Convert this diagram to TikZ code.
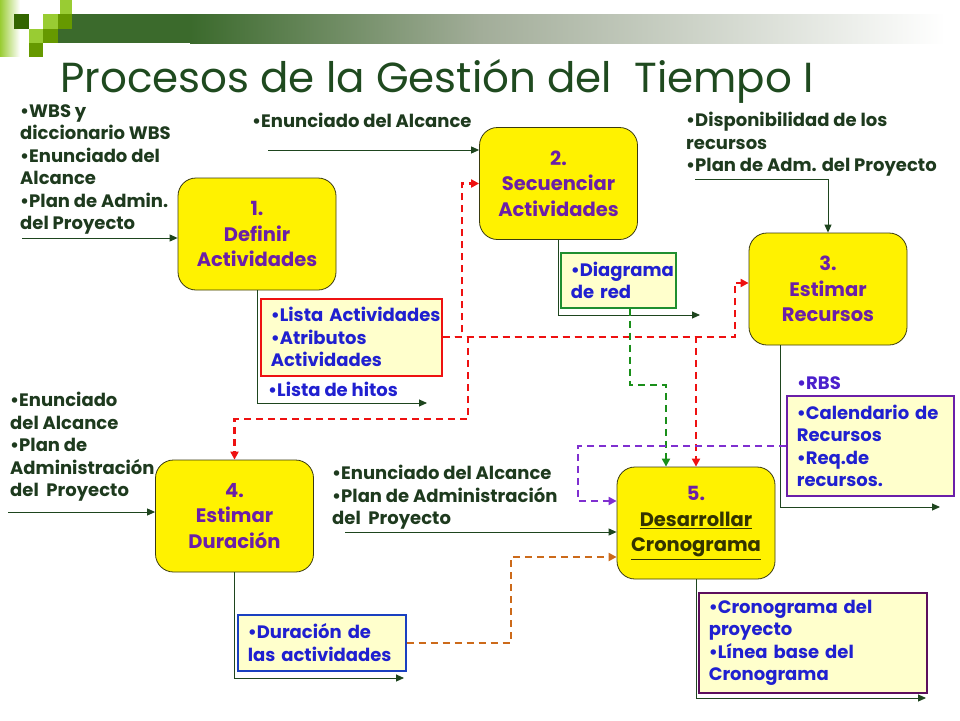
\documentclass[tikz,border=0pt]{standalone}
\usepackage{fontspec}
\setmainfont{Poppins}
\usetikzlibrary{arrows.meta,calc}
\definecolor{ttl}{HTML}{1F4A1F}
\definecolor{ingreen}{HTML}{1E3A1E}
\definecolor{flowgreen}{HTML}{1E451E}
\definecolor{procpurple}{HTML}{6B1FA8}
\definecolor{boxline}{HTML}{3A3A10}
\definecolor{olivetext}{HTML}{333300}
\definecolor{outblue}{HTML}{2020D0}
\definecolor{rbsblue}{HTML}{4B1FCC}
\definecolor{paleyellow}{HTML}{FFFFCC}
\definecolor{redline}{HTML}{EE1111}
\definecolor{greenbox}{HTML}{1F8F2F}
\definecolor{greendash}{HTML}{1A8F1A}
\definecolor{purplebox}{HTML}{6A1FA8}
\definecolor{purpledash}{HTML}{7F2FD0}
\definecolor{orangedash}{HTML}{CC6A1A}
\definecolor{bluebox}{HTML}{1A40C0}
\definecolor{darkpurple}{HTML}{5C0F5C}
\definecolor{sqlight}{HTML}{99CC33}
\definecolor{sqmid}{HTML}{669900}
\definecolor{sqdark}{HTML}{336600}
\definecolor{bardark}{HTML}{3B6A2C}
\definecolor{barmid}{HTML}{A2AD99}
\begin{document}
\begin{tikzpicture}[x=1pt,y=-1pt,
  proc/.style={draw=boxline, line width=0.8pt, fill=yellow, rounded corners=18pt,
    minimum width=158pt, minimum height=112pt, align=center, text=procpurple,
    font=\bfseries\fontsize{19.5}{25.5}\selectfont, inner sep=0pt},
  intext/.style={anchor=north west, inner sep=0pt, align=left, text=ingreen,
    font=\bfseries\fontsize{18}{22.5}\selectfont},
  outbox/.style={draw, line width=1.6pt, fill=paleyellow, anchor=north west, align=left,
    inner xsep=10pt, inner ysep=0pt, text=outblue,
    font=\bfseries\fontsize{18}{22.5}\selectfont},
  flow/.style={draw=flowgreen, line width=0.9pt, -{Triangle[length=8pt,width=7pt]}},
  dashflow/.style={line width=2.2pt, dash pattern=on 7pt off 5pt, -{Triangle[length=8pt,width=8pt]}},
  reddash/.style={dashflow, draw=redline},
  grndash/.style={dashflow, draw=greendash},
  purdash/.style={dashflow, draw=purpledash},
  orgdash/.style={dashflow, draw=orangedash}
]
\useasboundingbox (0,0) rectangle (960,720);
\fill[white] (0,0) rectangle (960,720);
% header decoration
\shade[left color=sqlight, right color=white] (0,0) rectangle (20,56);
\fill[bardark] (58,14) rectangle (190,43);
\shade[left color=bardark, right color=barmid] (190,14) rectangle (480,43);
\shade[left color=barmid, right color=white] (480,14) rectangle (945,43);
\fill[sqlight] (60,0) rectangle (72,14);
\fill[sqdark] (14,14) rectangle (29,29);
\fill[sqlight] (43,14) rectangle (58,29);
\fill[sqmid] (58,14) rectangle (72,29);
\fill[sqlight] (29,29) rectangle (43,43);
\fill[sqmid] (43,29) rectangle (58,43);
\fill[sqmid] (29,43) rectangle (43,57);
% title
\node[anchor=base west, inner sep=0pt, text=ttl, font=\fontsize{42}{50}\selectfont] (title) at (60,92) {Procesos de la Gestión del\ \ Tiempo I};
% process boxes
\node[proc] (b1) at (257,234) {1.\\Definir\\Actividades};
\node[proc] (b2) at (558.5,183.5) {2.\\Secuenciar\\Actividades};
\node[proc] (b3) at (828,289) {3.\\Estimar\\Recursos};
\node[proc] (b4) at (234.5,516) {4.\\Estimar\\Duración};
\node[proc] (b5) at (696,523) {5.\\\textcolor{olivetext}{\underline{Desarrollar}}\\\textcolor{olivetext}{\underline{Cronograma}}};
% input texts
\node[intext] (inA) at (20,104) {•WBS y\\diccionario WBS\\•Enunciado del\\Alcance\\•Plan de Admin.\\del Proyecto};
\node[intext] (inB) at (252,113) {•Enunciado del Alcance};
\node[intext] (inC) at (686,112) {•Disponibilidad de los\\recursos\\•Plan de Adm. del Proyecto};
\node[intext] (inD) at (10,392) {•Enunciado\\del Alcance\\•Plan de\\Administración\\del\ \ Proyecto};
\node[intext] (inE) at (332,465) {•Enunciado del Alcance\\•Plan de Administración\\del\ \ Proyecto};
% output boxes
\node[outbox, draw=redline, text width=161pt, minimum height=77pt] (outA) at (260,298) {\mbox{•Lista Actividades}\\\mbox{•Atributos}\\\mbox{Actividades}};
\node[outbox, draw=greenbox, text width=95pt, minimum height=55pt] (outB) at (560,252) {\mbox{•Diagrama}\\\mbox{de red}};
\node[outbox, draw=purplebox, text width=147pt, minimum height=100pt] (outC) at (786,395) {\mbox{•Calendario de}\\\mbox{Recursos}\\\mbox{•Req.de}\\\mbox{recursos.}};
\node[outbox, draw=bluebox, text width=148pt, minimum height=56pt] (outD) at (237,614) {\mbox{•Duración de}\\\mbox{las actividades}};
\node[outbox, draw=darkpurple, text width=208pt, minimum height=100pt] (outE) at (698,592) {\mbox{•Cronograma del}\\\mbox{proyecto}\\\mbox{•Línea base del}\\\mbox{Cronograma}};
\node[intext, text=outblue] (hitos) at (268,382) {•Lista de hitos};
\node[intext, text=rbsblue] (rbs) at (797,376) {•RBS};
% solid input arrows
\coordinate (i1) at (22,238);
\coordinate (i2) at (268,150);
\coordinate (i3) at (695,179);
\coordinate (i4) at (8,512);
\coordinate (i5) at (345,532);
\draw[flow] (i1) -- (i1 -| b1.west);
\draw[flow] (i2) -- (i2 -| b2.west);
\draw[flow] (i3) -| (b3.north);
\draw[flow] (i4) -- (i4 -| b4.west);
\draw[flow] (i5) -- (i5 -| b5.west);
% solid output arrows
\coordinate (o1) at (427,403);
\coordinate (o2) at (700,315);
\coordinate (o3) at (940,507);
\coordinate (o4) at (404,678);
\coordinate (o5) at (926,698);
\draw[flow] (b1.south) |- (o1);
\draw[flow] (b2.south) |- (o2);
\draw[flow] ($(b3.south)+(-48,0)$) |- (o3);
\draw[flow] (b4.south) |- (o4);
\draw[flow] (b5.south) |- (o5);
% dashed connectors
\draw[reddash] (outA.east) -- ++(19,0) |- (b2.west);
\draw[reddash] (outA.east) -- ++(292,0) |- ($(b3.west)+(0,-6)$);
\draw[reddash] (outA.east) -- ++(25,0) -- ++(0,82) -| (b4.north);
\draw[reddash] (outA.east) -| (b5.north);
\draw[grndash] ($(outB.south)+(12,0)$) -- ++(0,76) -| ($(b5.north)+(-30,0)$);
\draw[purdash] (outC.west) -- ++(-208,0) |- ($(b5.west)+(0,-22)$);
\draw[orgdash] (outD.east) -- ++(104,0) |- ($(b5.west)+(0,34)$);
\end{tikzpicture}
\end{document}
